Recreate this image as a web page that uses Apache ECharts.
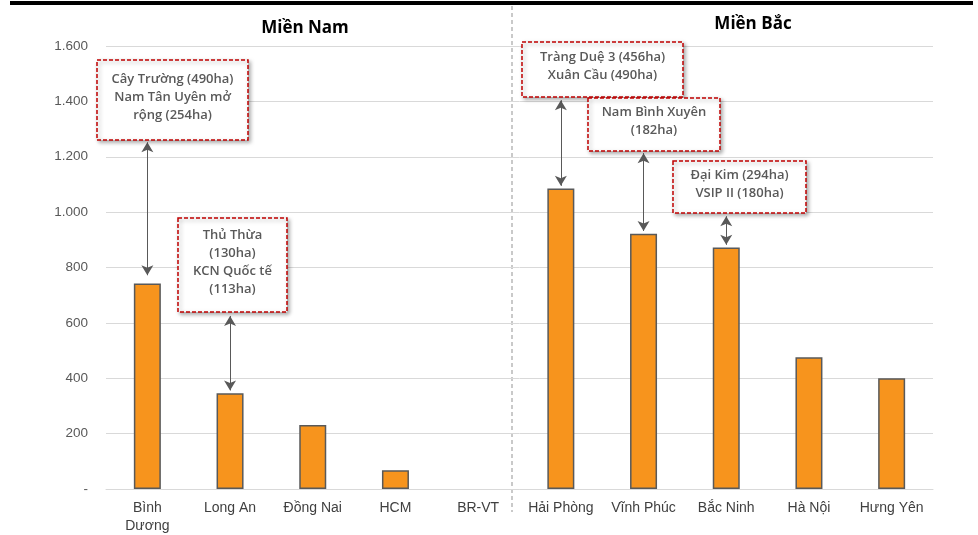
<!DOCTYPE html>
<html>
<head>
<meta charset="utf-8">
<script src="https://cdn.jsdelivr.net/npm/echarts@6/dist/echarts.min.js"></script>
<style>
  html, body { margin: 0; padding: 0; background: #fff; }
  #chart { width: 978px; height: 535px; }
</style>
</head>
<body>
<div id="chart"></div>
<script>
// danh sách tỉnh và diện tích (ha)
var categories = ['Bình\nDương', 'Long An', 'Đồng Nai', 'HCM', 'BR-VT',
  'Hải Phòng', 'Vĩnh Phúc', 'Bắc Ninh', 'Hà Nội', 'Hưng Yên'];
var values = [742, 346, 231, 68, 0, 1085, 922, 872, 476, 400];
var yTicks = [0, 200, 400, 600, 800, 1000, 1200, 1400, 1600];

// mũi tên: [tỉnh, giá trị trên, giá trị dưới]
var arrows = [
  [0, 1252, 772],
  [1, 625, 356],
  [5, 1404, 1095],
  [6, 1213, 932],
  [7, 985, 882]
];
// ghi chú
var notes = [
  ['Cây Trường (490ha)', 'Nam Tân Uyên mở', 'rộng (254ha)'],
  ['Thủ Thừa', '(130ha)', 'KCN Quốc tế', '(113ha)'],
  ['Tràng Duệ 3 (456ha)', 'Xuân Cầu (490ha)'],
  ['Nam Bình Xuyên', '(182ha)'],
  ['Đại Kim (294ha)', 'VSIP II (180ha)']
];

var noteBoxes = [
  [97, 60, 151, 80],
  [178, 218, 109, 94],
  [522, 42, 161, 55],
  [588, 98, 132, 53],
  [673, 161, 133, 52]
];

var myChart = echarts.init(document.getElementById('chart'));

var arrowData = arrows.map(function (a) {
  return [
    { coord: [a[0], a[1]] },
    { coord: [a[0], a[2]] }
  ];
});

var barData = values.map(function (v) {
  return v === 0 ? { value: v, itemStyle: { borderWidth: 0 } } : v;
});

var graphics = [
  // đường đen trên cùng
  { type: 'rect', shape: { x: 10, y: 1, width: 963, height: 4 }, style: { fill: '#000' }, z: 10 },
  // đường phân cách
  { type: 'line', shape: { x1: 512, y1: 6, x2: 512, y2: 512 },
    style: { stroke: '#a6a6a6', lineWidth: 1.2, lineDash: [4, 3] } },
  { type: 'text', x: 305, y: 28, style: { text: 'Miền Nam', font: 'bold 17px "Open Sans"', fill: '#000', align: 'center', verticalAlign: 'middle' } },
  { type: 'text', x: 753, y: 24, style: { text: 'Miền Bắc', font: 'bold 17px "Open Sans"', fill: '#000', align: 'center', verticalAlign: 'middle' } }
];

noteBoxes.forEach(function (b, i) {
  graphics.push({
    type: 'rect',
    z: 20,
    shape: { x: b[0], y: b[1], width: b[2], height: b[3] },
    style: {
      fill: '#fff', stroke: '#C00000', lineWidth: 1.5, lineDash: [4, 2],
      shadowBlur: 4, shadowOffsetX: 2, shadowOffsetY: 2, shadowColor: 'rgba(0,0,0,0.35)'
    }
  });
  var lines = notes[i];
  var lh = 18;
  var cy = b[1] + b[3] / 2 - 3 - (lines.length - 1) * lh / 2;
  lines.forEach(function (t, k) {
    graphics.push({
      type: 'text',
      z: 21,
      x: b[0] + b[2] / 2,
      y: cy + k * lh,
      style: {
        text: t, font: '600 13px "Open Sans"', fill: '#595959',
        align: 'center', verticalAlign: 'middle'
      }
    });
  });
});

var option = {
  animation: false,
  grid: { left: 106, right: 45, top: 46, bottom: 45 },
  xAxis: {
    type: 'category',
    data: categories,
    axisLine: { lineStyle: { color: '#d9d9d9', width: 1 } },
    axisTick: { show: false },
    axisLabel: {
      color: '#404040', fontSize: 14, fontFamily: 'Liberation Sans',
      margin: 10, lineHeight: 18, interval: 0
    }
  },
  yAxis: {
    type: 'value',
    min: yTicks[0],
    max: yTicks[yTicks.length - 1],
    interval: 200,
    axisLine: { show: false },
    axisTick: { show: false },
    splitLine: { lineStyle: { color: '#d9d9d9', width: 1 } },
    axisLabel: {
      color: '#595959', fontSize: 13.5, fontFamily: 'Liberation Sans', margin: 18,
      formatter: function (v) {
        if (v === 0) return '-';
        return String(v).replace(/\B(?=(\d{3})+(?!\d))/g, '.');
      }
    }
  },
  series: [{
    type: 'bar',
    data: barData,
    barWidth: 27,
    itemStyle: { color: '#F7941D', borderColor: '#595959', borderWidth: 1.5 },
    markLine: {
      silent: true,
      symbol: ['arrow', 'arrow'],
      symbolSize: [9, 10],
      label: { show: false },
      lineStyle: { color: '#595959', width: 1, type: 'solid' },
      data: arrowData
    }
  }],
  graphic: graphics
};

myChart.setOption(option);
</script>
</body>
</html>
